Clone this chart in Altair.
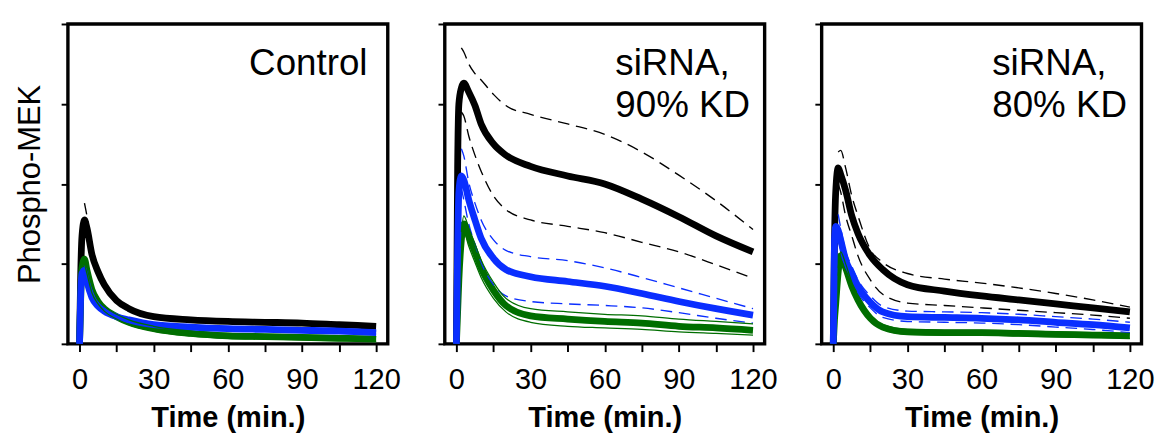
import altair as alt
import pandas as pd

# ---------------- data ----------------
T = [0, 0.5, 1, 2, 3, 5, 7.5, 10, 15, 20, 30, 45, 60, 75, 90, 105, 120]
T_CI = [2, 3, 5, 7.5, 10, 15, 20, 30, 45, 60, 75, 90, 105, 120]

PANELS = ["Control", "siRNA, 90% KD", "siRNA, 80% KD"]
LABEL_LINES = [["Control"], ["siRNA,", "90% KD"], ["siRNA,", "80% KD"]]

# Panel 1: Control
p1_black = [0, 0.9, 1.35, 1.55, 1.45, 1.12, 0.9, 0.74, 0.54, 0.44, 0.34, 0.3, 0.28, 0.27, 0.26, 0.24, 0.22]
p1_blue = [0, 0.65, 0.88, 0.92, 0.78, 0.58, 0.47, 0.41, 0.34, 0.3, 0.24, 0.21, 0.19, 0.18, 0.17, 0.16, 0.14]
p1_green = [0, 0.6, 0.95, 1.06, 0.92, 0.68, 0.53, 0.44, 0.34, 0.27, 0.19, 0.13, 0.1, 0.09, 0.08, 0.07, 0.06]
p1_black_up = [1.76, 1.6, 1.22, 0.96, 0.79, 0.57, 0.46, 0.36, 0.32, 0.3, 0.29, 0.28, 0.26, 0.24]
p1_black_lo = [1.4, 1.32, 1.04, 0.85, 0.7, 0.51, 0.42, 0.32, 0.28, 0.26, 0.25, 0.24, 0.22, 0.2]
p1_blue_up = [0.98, 0.83, 0.62, 0.5, 0.44, 0.36, 0.32, 0.26, 0.23, 0.21, 0.2, 0.19, 0.18, 0.16]
p1_blue_lo = [0.86, 0.73, 0.54, 0.44, 0.38, 0.32, 0.28, 0.22, 0.19, 0.17, 0.16, 0.15, 0.14, 0.12]
p1_green_up = [1.1, 0.96, 0.72, 0.56, 0.47, 0.37, 0.3, 0.22, 0.16, 0.13, 0.12, 0.11, 0.1, 0.09]
p1_green_lo = [1.0, 0.88, 0.64, 0.5, 0.41, 0.31, 0.24, 0.16, 0.1, 0.07, 0.06, 0.05, 0.04, 0.03]

# Panel 2: siRNA, 90% KD
p2_black = [0, 2.2, 3.0, 3.2, 3.26, 3.15, 2.98, 2.75, 2.5, 2.36, 2.22, 2.1, 2.0, 1.81, 1.59, 1.35, 1.15]
p2_blue = [0, 1.2, 1.9, 2.1, 2.05, 1.8, 1.55, 1.32, 1.07, 0.93, 0.84, 0.78, 0.72, 0.63, 0.53, 0.44, 0.36]
p2_green = [0, 0.4, 0.8, 1.3, 1.5, 1.35, 1.15, 0.95, 0.67, 0.48, 0.35, 0.31, 0.28, 0.26, 0.22, 0.2, 0.17]
p2_black_up = [3.7, 3.65, 3.5, 3.38, 3.3, 3.12, 2.98, 2.87, 2.75, 2.62, 2.4, 2.11, 1.79, 1.43]
p2_black_lo = [2.9, 2.85, 2.6, 2.36, 2.16, 1.85, 1.68, 1.55, 1.47, 1.39, 1.27, 1.15, 0.99, 0.82]
p2_blue_up = [2.44, 2.35, 2.02, 1.76, 1.55, 1.3, 1.17, 1.09, 1.04, 0.95, 0.83, 0.7, 0.57, 0.44]
p2_blue_lo = [1.95, 1.8, 1.5, 1.25, 1.02, 0.74, 0.6, 0.53, 0.5, 0.48, 0.45, 0.39, 0.32, 0.26]
p2_green_up = [1.4, 1.6, 1.45, 1.25, 1.05, 0.77, 0.57, 0.44, 0.4, 0.37, 0.35, 0.31, 0.28, 0.25]
p2_green_lo = [1.2, 1.4, 1.22, 1.02, 0.83, 0.57, 0.4, 0.27, 0.22, 0.2, 0.18, 0.15, 0.13, 0.11]

# Panel 3: siRNA, 80% KD
p3_black = [0, 1.3, 1.9, 2.2, 2.12, 1.92, 1.6, 1.38, 1.1, 0.93, 0.74, 0.66, 0.6, 0.55, 0.5, 0.45, 0.4]
p3_blue = [0, 1.3, 1.47, 1.42, 1.3, 1.05, 0.88, 0.72, 0.52, 0.4, 0.34, 0.33, 0.32, 0.3, 0.27, 0.24, 0.2]
p3_green = [0, 0.3, 0.5, 0.9, 1.1, 0.95, 0.72, 0.55, 0.32, 0.21, 0.15, 0.14, 0.14, 0.13, 0.12, 0.11, 0.1]
p3_black_up = [2.4, 2.42, 2.2, 1.85, 1.6, 1.18, 1.02, 0.88, 0.81, 0.76, 0.7, 0.63, 0.55, 0.46]
p3_black_lo = [2.0, 1.9, 1.6, 1.35, 1.1, 0.8, 0.62, 0.51, 0.48, 0.45, 0.42, 0.39, 0.36, 0.32]
p3_blue_up = [1.62, 1.45, 1.16, 0.97, 0.8, 0.6, 0.47, 0.41, 0.4, 0.39, 0.37, 0.34, 0.31, 0.27]
p3_blue_lo = [1.3, 1.18, 0.96, 0.8, 0.64, 0.45, 0.33, 0.28, 0.27, 0.26, 0.24, 0.21, 0.18, 0.14]
p3_green_up = [0.95, 1.15, 1.0, 0.77, 0.59, 0.35, 0.24, 0.18, 0.17, 0.17, 0.16, 0.15, 0.14, 0.13]
p3_green_lo = [0.85, 1.05, 0.9, 0.67, 0.51, 0.29, 0.18, 0.12, 0.11, 0.11, 0.1, 0.09, 0.08, 0.07]

X_TICKS = [0, 15, 30, 45, 60, 75, 90, 105, 120]
Y_TICKS = [0, 1, 2, 3, 4]

COLORS = {"black": "#000000", "blue": "#0a2eff", "green": "#006e00"}

PANEL_DATA = [
    {"black": p1_black, "blue": p1_blue, "green": p1_green,
     "black_up": p1_black_up, "black_lo": p1_black_lo, "blue_up": p1_blue_up,
     "blue_lo": p1_blue_lo, "green_up": p1_green_up, "green_lo": p1_green_lo},
    {"black": p2_black, "blue": p2_blue, "green": p2_green,
     "black_up": p2_black_up, "black_lo": p2_black_lo, "blue_up": p2_blue_up,
     "blue_lo": p2_blue_lo, "green_up": p2_green_up, "green_lo": p2_green_lo},
    {"black": p3_black, "blue": p3_blue, "green": p3_green,
     "black_up": p3_black_up, "black_lo": p3_black_lo, "blue_up": p3_blue_up,
     "blue_lo": p3_blue_lo, "green_up": p3_green_up, "green_lo": p3_green_lo},
]

# label anchor positions (data units)
LABEL_X = [116.5, 64.3, 64.3]
LABEL_Y_LINES = [3.36, 2.84]

FONT = "Liberation Sans"
xscale = alt.Scale(domain=[-4.7, 124.7], nice=False, zero=False)
yscale = alt.Scale(domain=[0, 4], nice=False)


def make_panel(i):
    d = PANEL_DATA[i]
    first = i == 0
    xaxis = alt.Axis(values=X_TICKS, labelExpr="datum.value % 30 == 0 ? datum.label : ''",
                     title="Time (min.)", grid=False, domain=False)
    if first:
        yaxis = alt.Axis(values=Y_TICKS, labels=False, grid=False, domain=False, title="Phospho-MEK")
    else:
        yaxis = alt.Axis(values=Y_TICKS, labels=False, grid=False, domain=False, title=None)

    layers = []
    for c in ["black", "green", "blue"]:
        df = pd.DataFrame({"t": T, "v": d[c]})
        layers.append(
            alt.Chart(df).mark_line(color=COLORS[c], strokeWidth=7, interpolate="monotone",
                                    strokeJoin="round")
            .encode(x=alt.X("t:Q", scale=xscale, axis=xaxis),
                    y=alt.Y("v:Q", scale=yscale, axis=yaxis))
        )
    for c in ["black", "blue", "green"]:
        for k in ["up", "lo"]:
            df = pd.DataFrame({"t": T_CI, "v": d[f"{c}_{k}"]})
            if c == "green":
                mk = alt.Chart(df).mark_line(color=COLORS[c], strokeWidth=1.3, interpolate="monotone")
            else:
                mk = alt.Chart(df).mark_line(color=COLORS[c], strokeWidth=1.4, strokeDash=[12, 7],
                                             interpolate="monotone")
            layers.append(mk.encode(x=alt.X("t:Q", scale=xscale, axis=xaxis),
                                    y=alt.Y("v:Q", scale=yscale, axis=yaxis)))
    lines = LABEL_LINES[i]
    ldf = pd.DataFrame({"t": [LABEL_X[i]] * len(lines), "v": LABEL_Y_LINES[:len(lines)], "txt": lines})
    layers.append(
        alt.Chart(ldf).mark_text(align="right" if first else "left", baseline="alphabetic",
                                 font=FONT, fontSize=38, color="black")
        .encode(x=alt.X("t:Q", scale=xscale, axis=xaxis),
                y=alt.Y("v:Q", scale=yscale, axis=yaxis), text="txt:N")
    )
    return alt.layer(*layers).properties(width=331, height=331)


chart = alt.hconcat(*[make_panel(i) for i in range(3)], spacing=34).properties(
    padding={"left": 5, "top": 6, "right": 0, "bottom": 0}
).configure_view(
    stroke="black", strokeWidth=3.5
).configure_axis(
    tickColor="black", tickWidth=2, tickSize=8,
    labelFont=FONT, labelFontSize=30, labelColor="black", labelPadding=14,
    titleFont=FONT, titleColor="black",
).configure_axisX(
    titleFontSize=30, titleFontWeight="bold", titlePadding=10, labelFlush=False
).configure_axisY(
    titleFontSize=32, titleFontWeight="normal", titlePadding=14, tickSize=7
)

chart.save("out.html", embed_options={"renderer": "svg", "actions": False})
